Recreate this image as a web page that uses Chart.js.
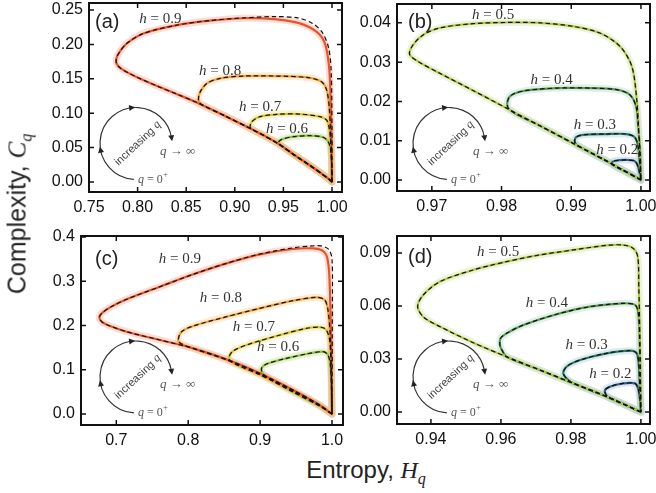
<!DOCTYPE html>
<html>
<head>
<meta charset="utf-8">
<script src="https://cdn.jsdelivr.net/npm/chart.js@4.4.1/dist/chart.umd.min.js"></script>
<style>
  html, body { margin: 0; padding: 0; background: #fff; }
  #fig { position: relative; width: 656px; height: 493px; overflow: hidden; }
  canvas { position: absolute; }
  .title { position: absolute; font-family: 'Liberation Sans', Arial, sans-serif; font-size: 24px; color: #222;
           white-space: nowrap; transform: translate(-50%, -50%); }
  .title.rot { font-size: 25px; transform: translate(-50%, -50%) rotate(-90deg); }
  .title i { font-family: 'Liberation Serif', 'DejaVu Serif', serif; }
  .title sub { font-family: 'Liberation Serif', serif; font-style: italic; font-size: 16px; }
</style>
</head>
<body>
<div id="fig">
  <canvas id="ca" width="350" height="218" style="left:0;top:0"></canvas>
  <canvas id="cb" width="306" height="218" style="left:350px;top:0"></canvas>
  <canvas id="cc" width="350" height="230" style="left:0;top:220px"></canvas>
  <canvas id="cd" width="306" height="230" style="left:350px;top:220px"></canvas>
  <div class="title rot" style="left:19px;top:214px">Complexity, <i>C</i><sub>q</sub></div>
  <div class="title" style="left:366px;top:472px">Entropy, <i>H</i><sub>q</sub></div>
</div>
<script>
// ---- tick values ----
const A_XTICKS = [0.75, 0.80, 0.85, 0.90, 0.95, 1.00];
const A_YTICKS = [0, 0.05, 0.10, 0.15, 0.20, 0.25];
const B_XTICKS = [0.97, 0.98, 0.99, 1.00];
const B_YTICKS = [0, 0.01, 0.02, 0.03, 0.04];
const C_XTICKS = [0.7, 0.8, 0.9, 1.0];
const C_YTICKS = [0, 0.1, 0.2, 0.3, 0.4];
const D_XTICKS = [0.94, 0.96, 0.98, 1.00];
const D_YTICKS = [0, 0.03, 0.06, 0.09];

// ---- h values of the curves ----
const HIGH_H = ['0.9', '0.8', '0.7', '0.6'];
const LOW_H = ['0.5', '0.4', '0.3', '0.2'];

// ---- curve label anchors (H, C) ----
const A_LABEL_X = [0.8234, 0.885, 0.926, 0.9537];
const A_LABEL_Y = [0.2369, 0.1613, 0.109, 0.077];
const B_LABEL_X = [0.9788, 0.9872, 0.9934, 0.9966];
const B_LABEL_Y = [0.0421, 0.0255, 0.014, 0.0077];
const C_LABEL_X = [0.7885, 0.8454, 0.8912, 0.925];
const C_LABEL_Y = [0.3496, 0.2615, 0.1959, 0.1507];
const D_LABEL_X = [0.9592, 0.9731, 0.9845, 0.9913];
const D_LABEL_Y = [0.0907, 0.0615, 0.0379, 0.0215];

// ---- panel (a): [H, C] along each loop ----
const A09 = [[1.0,0],[0.997,0.004],[0.99,0.0115],[0.98,0.0215],[0.97,0.031],[0.96,0.0405],[0.945,0.0555],[0.93,0.0675],[0.915,0.0785],[0.89,0.096],[0.8626,0.1145],[0.84,0.128],[0.82,0.1395],[0.80,0.152],[0.79,0.159],[0.782,0.166],[0.7785,0.172],[0.778,0.178],[0.7805,0.187],[0.789,0.2016],[0.806,0.216],[0.8405,0.228],[0.8747,0.2345],[0.9088,0.238],[0.943,0.2365],[0.967,0.2306],[0.984,0.2185],[0.9927,0.2016],[0.997,0.1676],[0.9986,0.119],[0.9996,0.05],[1.0,0]];
const A09_THEORY = [[1.0,0],[0.997,0.004],[0.99,0.0115],[0.98,0.0215],[0.97,0.031],[0.96,0.0405],[0.945,0.0555],[0.93,0.0675],[0.915,0.0785],[0.89,0.096],[0.8626,0.1145],[0.84,0.128],[0.82,0.1395],[0.80,0.152],[0.79,0.159],[0.782,0.166],[0.7785,0.172],[0.778,0.178],[0.7805,0.187],[0.789,0.2016],[0.806,0.216],[0.8405,0.228],[0.8747,0.2348],[0.9088,0.2385],[0.94,0.2405],[0.965,0.2385],[0.98,0.2305],[0.99,0.2175],[0.9965,0.195],[0.9992,0.16],[1.0,0.08],[1.0,0]];
const A08 = [[1.0,0],[0.997,0.004],[0.99,0.0115],[0.98,0.0215],[0.97,0.031],[0.96,0.0405],[0.945,0.0555],[0.93,0.0675],[0.915,0.0785],[0.89,0.096],[0.866,0.1125],[0.8626,0.119],[0.8644,0.131],[0.8713,0.1434],[0.885,0.1507],[0.9088,0.154],[0.943,0.154],[0.974,0.152],[0.9893,0.1458],[0.9945,0.1337],[0.9971,0.1095],[0.9985,0.071],[0.9995,0.033],[1.0,0]];
const A07 = [[1.0,0],[0.997,0.004],[0.99,0.0115],[0.98,0.0215],[0.97,0.031],[0.96,0.0405],[0.945,0.0555],[0.93,0.0675],[0.9175,0.077],[0.9157,0.08],[0.9175,0.0877],[0.926,0.095],[0.943,0.0984],[0.967,0.0988],[0.9876,0.095],[0.9945,0.09],[0.9971,0.0785],[0.9985,0.061],[0.9995,0.033],[1.0,0]];
const A06 = [[1.0,0],[0.997,0.004],[0.99,0.0115],[0.98,0.0215],[0.97,0.031],[0.96,0.0405],[0.947,0.054],[0.9448,0.0575],[0.9483,0.062],[0.96,0.0659],[0.9773,0.0673],[0.991,0.065],[0.9961,0.0586],[0.9985,0.048],[0.9998,0.0213],[1.0,0]];

// ---- panel (b) ----
const B05 = [[1.0,0],[0.997,0.0029],[0.9951,0.0048],[0.9903,0.0093],[0.9855,0.0138],[0.9807,0.0183],[0.9759,0.0228],[0.9711,0.0272],[0.968,0.0302],[0.9668,0.032],[0.9673,0.0344],[0.9688,0.037],[0.9711,0.0387],[0.9759,0.0398],[0.9807,0.0401],[0.9855,0.04],[0.9903,0.0391],[0.9941,0.0374],[0.997,0.034],[0.9987,0.0289],[0.9994,0.0204],[0.9997,0.0119],[1.0,0]];
const B04 = [[1.0,0],[0.997,0.0029],[0.9951,0.0048],[0.9903,0.0093],[0.9855,0.0138],[0.9819,0.017],[0.9809,0.0185],[0.981,0.0208],[0.9817,0.0219],[0.9836,0.0228],[0.9879,0.0234],[0.9927,0.0234],[0.9965,0.023],[0.9984,0.0217],[0.9993,0.0187],[0.9996,0.0136],[0.9999,0.0068],[1.0,0]];
const B03 = [[1.0,0],[0.997,0.0029],[0.9951,0.0048],[0.991,0.0087],[0.9905,0.0097],[0.9907,0.0109],[0.9917,0.0115],[0.9951,0.0117],[0.9979,0.0117],[0.9991,0.0109],[0.9996,0.0085],[1.0,0]];
const B02 = [[1.0,0],[0.998,0.002],[0.996,0.0038],[0.9958,0.0044],[0.9963,0.0049],[0.9979,0.0051],[0.9991,0.0048],[0.9996,0.0034],[1.0,0]];

// ---- panel (c) ----
const C09 = [[1.0,0],[0.9829,0.0203],[0.9458,0.0542],[0.8996,0.092],[0.8533,0.1236],[0.807,0.1484],[0.7607,0.1672],[0.7144,0.186],[0.6913,0.1989],[0.68,0.208],[0.6764,0.2185],[0.68,0.228],[0.6913,0.241],[0.7144,0.2592],[0.7607,0.2877],[0.807,0.3157],[0.8533,0.3405],[0.8996,0.3609],[0.9458,0.3729],[0.9736,0.3744],[0.9853,0.3706],[0.9922,0.3593],[0.9958,0.3254],[0.9976,0.2501],[0.999,0.1372],[1.0,0]];
const C09_THEORY = [[1.0,0],[0.9829,0.0203],[0.9458,0.0542],[0.8996,0.092],[0.8533,0.1236],[0.807,0.1484],[0.7607,0.1672],[0.7144,0.186],[0.6913,0.1989],[0.68,0.208],[0.6764,0.2185],[0.68,0.228],[0.6913,0.241],[0.7144,0.2592],[0.7607,0.2877],[0.807,0.3157],[0.8533,0.3405],[0.8996,0.3615],[0.9458,0.3755],[0.97,0.3795],[0.985,0.38],[0.9955,0.372],[1.0,0.35],[1.0005,0.25],[1.0,0]];
const C08 = [[1.0,0],[0.9829,0.0193],[0.9458,0.0525],[0.8996,0.09],[0.8533,0.1222],[0.807,0.148],[0.79,0.159],[0.7861,0.1672],[0.7908,0.186],[0.807,0.1989],[0.8533,0.2199],[0.8996,0.2388],[0.9458,0.2561],[0.9783,0.2637],[0.9899,0.2576],[0.9944,0.235],[0.9976,0.1747],[0.999,0.0994],[1.0,0]];
const C07 = [[1.0,0],[0.9829,0.0185],[0.9458,0.051],[0.8996,0.0885],[0.87,0.109],[0.8585,0.12],[0.857,0.1296],[0.8625,0.1424],[0.8811,0.1559],[0.9228,0.1763],[0.9644,0.1936],[0.9853,0.1959],[0.9922,0.1898],[0.9967,0.167],[0.999,0.0994],[1.0,0]];
const C06 = [[1.0,0],[0.9829,0.0178],[0.9458,0.0495],[0.915,0.077],[0.904,0.091],[0.902,0.1032],[0.9089,0.113],[0.9367,0.1258],[0.9644,0.1356],[0.9875,0.1408],[0.9944,0.1333],[0.9976,0.1115],[0.999,0.0663],[1.0,0]];

// ---- panel (d) ----
const D05 = [[1.0,0],[0.9902,0.0087],[0.9807,0.0162],[0.9711,0.0238],[0.9616,0.0313],[0.9521,0.0392],[0.9426,0.0483],[0.938,0.0535],[0.9362,0.0595],[0.9378,0.0662],[0.9426,0.0738],[0.9521,0.0804],[0.9616,0.0851],[0.9711,0.0889],[0.9807,0.0917],[0.9902,0.0943],[0.995,0.0945],[0.9978,0.0926],[0.9991,0.0879],[0.9994,0.0709],[0.9997,0.0426],[1.0,0]];
const D04 = [[1.0,0],[0.9902,0.0087],[0.9807,0.0162],[0.9711,0.0238],[0.9616,0.0313],[0.9603,0.035],[0.9597,0.038],[0.9599,0.0417],[0.9616,0.0445],[0.9664,0.0492],[0.9759,0.0553],[0.9854,0.0596],[0.9949,0.0615],[0.9983,0.0606],[0.9992,0.0568],[0.9996,0.0426],[1.0,0]];
const D03 = [[1.0,0],[0.9902,0.0087],[0.9807,0.0162],[0.979,0.0185],[0.9778,0.022],[0.9788,0.0257],[0.9826,0.0294],[0.9902,0.0332],[0.9969,0.0347],[0.9988,0.0332],[0.9994,0.0266],[0.9997,0.0132],[1.0,0]];
const D02 = [[1.0,0],[0.995,0.0045],[0.9904,0.0088],[0.9897,0.0121],[0.9911,0.0143],[0.995,0.0162],[0.9983,0.0162],[0.9992,0.0134],[0.9997,0.0075],[1.0,0]];

// colours
const WARM = ['#e9532b', '#f0a136', '#d9c12e', '#92bf45'];
const WARM_HALO = ['rgba(240,145,115,0.3)', 'rgba(245,195,125,0.32)', 'rgba(232,225,140,0.38)', 'rgba(190,222,140,0.38)'];
const COOL = ['#b7c63d', '#5f9b43', '#2f7b5a', '#2e6478'];
const COOL_HALO = ['rgba(200,225,170,0.38)', 'rgba(170,210,210,0.38)', 'rgba(165,202,230,0.4)', 'rgba(175,188,232,0.4)'];

const TICK_FONT = { family: "'Liberation Sans', Arial, sans-serif", size: 16 };
const SERIF = "'Liberation Serif', 'DejaVu Serif', serif";

const PANELS = [
  { id: 'ca', letter: '(a)', curves: [A09, A08, A07, A06], theory: [A09_THEORY, A08, A07, A06],
    h: HIGH_H, lx: A_LABEL_X, ly: A_LABEL_Y, xt: A_XTICKS, yt: A_YTICKS, xd: 2, yd: 2,
    colors: WARM, halos: WARM_HALO, x: [0.75, 1.0103], y: [-0.0145, 0.2602],
    pad: { left: 44, top: 3, right: 8, bottom: 2 }, yW: 45, letterAt: [6, 19], insetAt: [47, -48.5] },
  { id: 'cb', letter: '(b)', curves: [B05, B04, B03, B02], theory: [B05, B04, B03, B02],
    h: LOW_H, lx: B_LABEL_X, ly: B_LABEL_Y, xt: B_XTICKS, yt: B_YTICKS, xd: 2, yd: 2,
    colors: COOL, halos: COOL_HALO, x: [0.965, 1.0013], y: [-0.0028, 0.0448],
    pad: { left: 2, top: 4, right: 6, bottom: 3 }, yW: 45, letterAt: [11, 18.5], insetAt: [52, -47.5] },
  { id: 'cc', letter: '(c)', curves: [C09, C08, C07, C06], theory: [C09_THEORY, C08, C07, C06],
    h: HIGH_H, lx: C_LABEL_X, ly: C_LABEL_Y, xt: C_XTICKS, yt: C_YTICKS, xd: 1, yd: 1,
    colors: WARM, halos: WARM_HALO, x: [0.6509, 1.0153], y: [-0.0249, 0.4023],
    pad: { left: 41, top: 16, right: 7, bottom: 1 }, yW: 40, letterAt: [14, 23.5], insetAt: [55, -48] },
  { id: 'cd', letter: '(d)', curves: [D05, D04, D03, D02], theory: [D05, D04, D03, D02],
    h: LOW_H, lx: D_LABEL_X, ly: D_LABEL_Y, xt: D_XTICKS, yt: D_YTICKS, xd: 2, yd: 2,
    colors: COOL, halos: COOL_HALO, x: [0.9303, 1.0026], y: [-0.0068, 0.0996],
    pad: { left: 2, top: 16, right: 6, bottom: 2 }, yW: 45, letterAt: [11, 21.5], insetAt: [52, -47] }
];

const toXY = arr => arr.map(p => ({ x: p[0], y: p[1] }));

function arrowHead(ctx, x, y, dir) {
  const len = 6, half = 3;
  const c = Math.cos(dir), s = Math.sin(dir);
  ctx.beginPath();
  ctx.moveTo(x + c * len * 0.6, y + s * len * 0.6);
  ctx.lineTo(x - c * len * 0.4 - s * half, y - s * len * 0.4 + c * half);
  ctx.lineTo(x - c * len * 0.4 + s * half, y - s * len * 0.4 - c * half);
  ctx.closePath();
  ctx.fill();
}

function drawInset(ctx, cx, cy) {
  const r = 36;
  const a0 = Math.PI / 2 + 0.06, a1 = 2 * Math.PI - 0.16;
  ctx.save();
  ctx.strokeStyle = '#333';
  ctx.fillStyle = '#222';
  ctx.lineWidth = 1.2;
  ctx.beginPath();
  ctx.arc(cx, cy, r, a0, a1);
  ctx.stroke();
  [Math.PI * 0.94, Math.PI * 1.46, a1].forEach(a => {
    arrowHead(ctx, cx + r * Math.cos(a), cy + r * Math.sin(a), a + Math.PI / 2);
  });

  // "increasing q" along the diagonal
  ctx.save();
  ctx.translate(cx + 2, cy);
  ctx.rotate(-0.75);
  ctx.fillStyle = '#444';
  ctx.textBaseline = 'middle';
  ctx.font = "11px 'Liberation Sans', Arial, sans-serif";
  const w1 = ctx.measureText('increasing ').width;
  ctx.font = 'italic 12px ' + SERIF;
  const w2 = ctx.measureText('q').width;
  ctx.font = "11px 'Liberation Sans', Arial, sans-serif";
  ctx.fillText('increasing ', -(w1 + w2) / 2, 0);
  ctx.font = 'italic 12px ' + SERIF;
  ctx.fillText('q', -(w1 + w2) / 2 + w1, -1);
  ctx.restore();

  // q -> infinity and q = 0+
  ctx.fillStyle = '#555';
  ctx.textBaseline = 'middle';
  ctx.textAlign = 'left';
  let x = cx + 24;
  ctx.font = 'italic 13px ' + SERIF;
  ctx.fillText('q', x, cy + 8);
  x += ctx.measureText('q').width;
  ctx.font = '13px ' + SERIF;
  ctx.fillText(' \u2192 \u221E', x, cy + 8);

  x = cx + 2;
  ctx.font = 'italic 12px ' + SERIF;
  ctx.fillText('q', x, cy + 36);
  x += ctx.measureText('q').width;
  ctx.font = '12px ' + SERIF;
  ctx.fillText(' = 0', x, cy + 36);
  x += ctx.measureText(' = 0').width;
  ctx.font = '8px ' + SERIF;
  ctx.fillText('+', x + 0.5, cy + 31);
  ctx.restore();
}

function drawHLabel(ctx, x, y, value) {
  ctx.font = 'italic 15px ' + SERIF;
  const w1 = ctx.measureText('h').width;
  ctx.font = '15px ' + SERIF;
  const rest = ' = ' + value;
  const w2 = ctx.measureText(rest).width;
  const x0 = x - (w1 + w2) / 2;
  ctx.fillStyle = '#333';
  ctx.textBaseline = 'middle';
  ctx.textAlign = 'left';
  ctx.font = 'italic 15px ' + SERIF;
  ctx.fillText('h', x0, y);
  ctx.font = '15px ' + SERIF;
  ctx.fillText(rest, x0 + w1, y);
}

function makeDecor(p) {
  return {
    id: 'decor_' + p.id,
    afterDraw(chart) {
      const { ctx, chartArea: a, scales } = chart;
      const xs = scales.x, ys = scales.y;
      ctx.save();
      // curve labels
      p.h.forEach((v, i) => drawHLabel(ctx, xs.getPixelForValue(p.lx[i]), ys.getPixelForValue(p.ly[i]), v));
      // frame and inward ticks
      ctx.strokeStyle = '#111';
      ctx.lineWidth = 2;
      ctx.strokeRect(a.left, a.top, a.right - a.left, a.bottom - a.top);
      ctx.lineWidth = 1.5;
      ctx.beginPath();
      p.xt.forEach(v => {
        const px = xs.getPixelForValue(v);
        ctx.moveTo(px, a.bottom); ctx.lineTo(px, a.bottom - 5);
        ctx.moveTo(px, a.top); ctx.lineTo(px, a.top + 5);
      });
      p.yt.forEach(v => {
        const py = ys.getPixelForValue(v);
        ctx.moveTo(a.left, py); ctx.lineTo(a.left + 5, py);
        ctx.moveTo(a.right, py); ctx.lineTo(a.right - 5, py);
      });
      ctx.stroke();
      // panel letter
      ctx.fillStyle = '#222';
      ctx.font = "20px 'Liberation Sans', Arial, sans-serif";
      ctx.textBaseline = 'middle';
      ctx.textAlign = 'left';
      ctx.fillText(p.letter, a.left + p.letterAt[0], a.top + p.letterAt[1]);
      // q-direction inset
      drawInset(ctx, a.left + p.insetAt[0], a.bottom + p.insetAt[1]);
      ctx.restore();
    }
  };
}

function buildPanel(p) {
  const datasets = [];
  p.curves.forEach((c, i) => {
    const common = { pointRadius: 0, fill: false, tension: 0.3, borderCapStyle: 'round', borderJoinStyle: 'round' };
    datasets.push(Object.assign({ data: toXY(c), borderColor: p.halos[i], borderWidth: 7, order: 20 + i }, common));
    datasets.push(Object.assign({ data: toXY(c), borderColor: p.colors[i], borderWidth: 2.2, order: 10 + i }, common));
    datasets.push(Object.assign({ data: toXY(p.theory[i]), borderColor: '#111', borderWidth: 1.2,
      borderDash: [4.5, 3], order: i }, common, { borderCapStyle: 'butt' }));
  });

  new Chart(document.getElementById(p.id).getContext('2d'), {
    type: 'line',
    data: { datasets },
    options: {
      responsive: false,
      animation: false,
      events: [],
      layout: { padding: p.pad },
      plugins: { legend: { display: false }, tooltip: { enabled: false } },
      scales: {
        x: {
          type: 'linear', min: p.x[0], max: p.x[1],
          grid: { display: false, drawTicks: false }, border: { display: false },
          afterBuildTicks: s => { s.ticks = p.xt.map(v => ({ value: v })); },
          afterFit: s => { s.height = 24; s.paddingLeft = 0; s.paddingRight = 0; },
          ticks: { font: TICK_FONT, color: '#111', padding: 6, maxRotation: 0, autoSkip: false,
                   callback: v => v.toFixed(p.xd) }
        },
        y: {
          type: 'linear', min: p.y[0], max: p.y[1],
          grid: { display: false, drawTicks: false }, border: { display: false },
          afterBuildTicks: s => { s.ticks = p.yt.map(v => ({ value: v })); },
          afterFit: s => { s.width = p.yW; s.paddingTop = 0; s.paddingBottom = 0; },
          ticks: { font: TICK_FONT, color: '#111', padding: 6, autoSkip: false,
                   callback: v => v.toFixed(p.yd) }
        }
      }
    },
    plugins: [makeDecor(p)]
  });
}

PANELS.forEach(buildPanel);
</script>
</body>
</html>
